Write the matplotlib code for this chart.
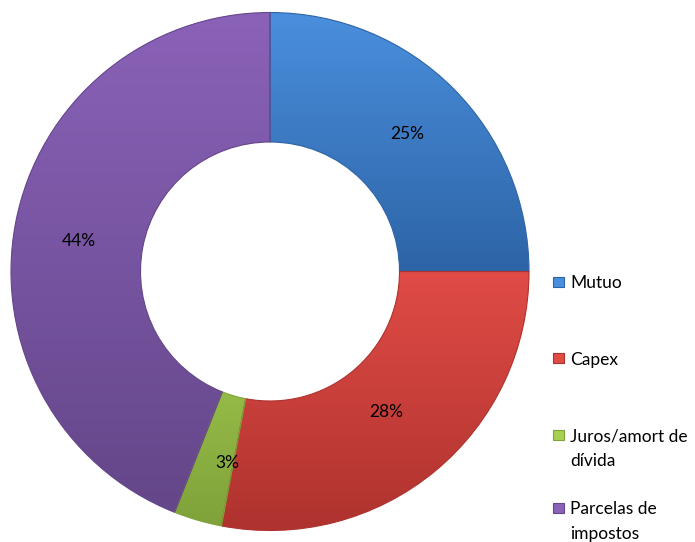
import matplotlib

matplotlib.use("Agg")
import matplotlib.pyplot as plt
import numpy as np
from matplotlib.colors import to_rgb
from matplotlib.patches import Rectangle

plt.rcParams["font.family"] = ["Lato", "DejaVu Sans"]

labels = ["Mutuo", "Capex", "Juros/amort de\ndívida", "Parcelas de\nimpostos"]
values = [25, 28, 3, 44]
top_colors = ["#4a8fdd", "#e04b46", "#a8d052", "#8a62b8"]
bottom_colors = ["#2d64a6", "#ae322e", "#7fa23a", "#644689"]
# small nudges (pixels) so the % labels sit where Excel put them
label_nudge = [(0, 0), (-8, 9), (12, -5), (0, -6)]

W, H = 695, 542
CX, CY, R = 270, 271.5, 259


def fx(px):
    return px / W


def fy(py):
    return 1 - py / H


fig = plt.figure(figsize=(W / 100, H / 100), dpi=100)
ax = fig.add_axes([fx(CX - R), fy(CY + R), 2 * R / W, 2 * R / H])

wedges, _, autotexts = ax.pie(
    values,
    startangle=90,
    counterclock=False,
    radius=1,
    autopct=lambda p: f"{p:.0f}%",
    pctdistance=0.75,
    wedgeprops=dict(width=0.5, linewidth=0.8),
    textprops=dict(fontsize=12.5, color="black"),
)
ax.set_xlim(-1, 1)
ax.set_ylim(-1, 1)
ax.set_aspect("equal")
ax.axis("off")

# vertical shading per slice, clipped to the wedge
for w, c_top, c_bot in zip(wedges, top_colors, bottom_colors):
    verts = w.get_path().vertices
    x0, y0 = verts.min(axis=0)
    x1, y1 = verts.max(axis=0)
    t = np.linspace(0, 1, 128)[:, None]
    grad = (1 - t) * np.array(to_rgb(c_bot)) + t * np.array(to_rgb(c_top))
    img = ax.imshow(
        grad[:, None, :],
        extent=(x0, x1, y0, y1),
        origin="lower",
        aspect="auto",
        interpolation="bilinear",
        zorder=2,
    )
    img.set_clip_path(w)
    w.set_facecolor("none")
    w.set_edgecolor(c_bot)
    w.set_zorder(3)

ax.set_xlim(-1, 1)
ax.set_ylim(-1, 1)
for t, (dx, dy) in zip(autotexts, label_nudge):
    x, y = t.get_position()
    t.set_position((x + dx / R, y + dy / R))
    t.set_zorder(5)

# legend drawn by hand so the marker sits on the first line
legend_y = [282, 358, 435, 508]
line_gap = 24
for lab, y, c_top, c_bot in zip(labels, legend_y, top_colors, bottom_colors):
    fig.patches.append(
        Rectangle((fx(553), fy(y + 5)), 11 / W, 10 / H, transform=fig.transFigure,
                  facecolor=c_top, edgecolor=c_bot, linewidth=0.8)
    )
    for i, line in enumerate(lab.split("\n")):
        fig.text(fx(570), fy(y + i * line_gap), line, fontsize=12.5,
                 va="center_baseline", ha="left", color="black")

fig.savefig("out.png", dpi=100)
